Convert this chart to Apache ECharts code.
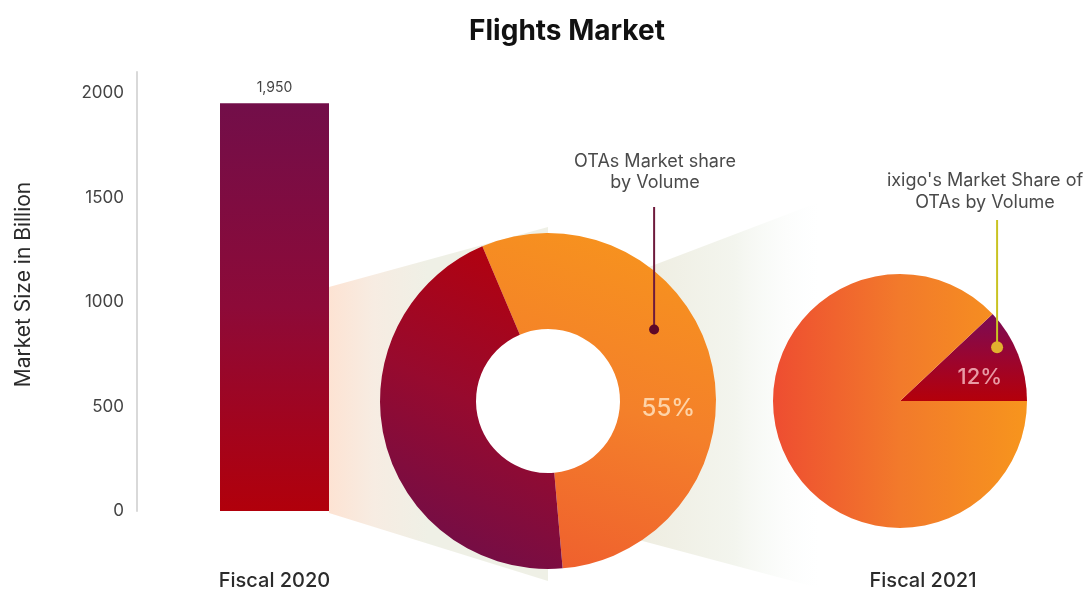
<!DOCTYPE html>
<html>
<head>
<meta charset="utf-8">
<title>Flights Market</title>
<script src="https://cdn.jsdelivr.net/npm/echarts@6/dist/echarts.min.js"></script>
<style>
  html, body { margin: 0; padding: 0; background: #ffffff; }
  #chart { width: 1085px; height: 591px; }
</style>
</head>
<body>
<div id="chart"></div>
<script>
// ---- data ----
const chartTitle = 'Flights Market';
const barCategories = ['Fiscal 2020'];
const marketSize = [1950];                       // Rs billion
const yAxisName = 'Market Size in Billion';

const otaNames = ['OTAs', 'Others'];
const otaShare = [55, 45];                        // % of flights market by volume
const otaNote = ['OTAs Market share', 'by Volume'];

const ixigoNames = ['ixigo', 'Other OTAs'];
const ixigoShare = [12, 88];                      // % of OTA volume
const ixigoNote = ["ixigo's Market Share of", 'OTAs by Volume'];
const pieYear = 'Fiscal 2021';

// ---- layout ----
const FONT = 'Inter, "Open Sans", sans-serif';
const W = 1085, H = 591;
const grid = { left: 137, width: 275, top: 72, bottom: 80 };
const barWidth = 109;
const donutCenter = [548, 401];
const donutRadius = [72, 168];
const pieCenter = [900, 401];
const pieRadius = 127;

function polar(c, r, deg) {
  const a = deg * Math.PI / 180;
  return [c[0] + r * Math.cos(a), c[1] - r * Math.sin(a)];
}

function lin(x, y, x2, y2, stops) {
  return { type: 'linear', x, y, x2, y2,
    colorStops: stops.map((c, i) => ({ offset: i / (stops.length - 1), color: c })) };
}

// band that widens from the bar into the donut, and from the donut to the pie
const barRight = grid.left + grid.width / 2 + barWidth / 2;
const barBottom = H - grid.bottom;
const bandA = [
  [barRight, 287], [donutCenter[0], donutCenter[1] - donutRadius[1] - 6],
  [donutCenter[0], donutCenter[1] + donutRadius[1] + 12], [barRight, barBottom + 2]
];
const bandB = [[620, 278], [830, 198], [830, 591], [620, 535]];

const otaDot = polar(donutCenter, 128, 34);
const ixigoDot = polar(pieCenter, 111, 29);

function note(lines, cx, y0, lineH) {
  return lines.map((t, i) => ({
    type: 'text',
    z: 20,
    style: {
      text: t, x: cx, y: y0 + i * lineH,
      align: 'center', verticalAlign: 'middle',
      font: '400 18px ' + FONT, fill: '#4a4a4a'
    }
  }));
}

const chart = echarts.init(document.getElementById('chart'), null, { renderer: 'canvas' });

chart.setOption({
  animation: false,
  backgroundColor: '#ffffff',
  textStyle: { fontFamily: FONT },
  title: {
    text: chartTitle,
    left: 562,
    textAlign: 'center',
    top: 13,
    textStyle: { fontFamily: FONT, fontSize: 28, fontWeight: 700, color: '#111111' }
  },
  grid: { left: grid.left, right: W - grid.left - grid.width, top: grid.top, bottom: grid.bottom, containLabel: false },
  xAxis: {
    type: 'category',
    data: barCategories,
    axisLine: { show: false },
    axisTick: { show: false },
    axisLabel: { margin: 60, fontSize: 20, fontWeight: 500, color: '#2b2b2b', fontFamily: FONT }
  },
  yAxis: {
    type: 'value',
    min: 0,
    max: 2100,
    interval: 500,
    name: yAxisName,
    nameLocation: 'middle',
    nameGap: 103,
    nameTextStyle: { fontSize: 21, color: '#2b2b2b', fontFamily: FONT, padding: [0, 0, 0, 14] },
    axisLine: { show: true, lineStyle: { color: '#d9d9d9', width: 2 } },
    axisTick: { show: false },
    splitLine: { show: false },
    axisLabel: {
      showMaxLabel: false, margin: 13, fontSize: 17, color: '#444444', fontFamily: FONT,
      formatter: v => String(v)
    }
  },
  series: [
    {
      type: 'bar',
      data: marketSize,
      barWidth: barWidth,
      z: 3,
      itemStyle: {
        color: lin(0, 0, 0, 1, ['#720e49', '#8d0a38', '#b1000b'])
      },
      label: {
        show: true,
        position: 'top',
        distance: 9,
        fontSize: 14,
        color: '#444444',
        fontFamily: FONT,
        formatter: p => p.value.toLocaleString('en-US')
      }
    },
    {
      type: 'pie',
      center: donutCenter,
      radius: donutRadius,
      startAngle: 90 + 23,
      clockwise: true,
      silent: true,
      z: 3,
      emphasis: { disabled: true },
      labelLine: { show: false },
      data: otaNames.map((n, i) => ({
        name: n,
        value: otaShare[i],
        itemStyle: {
          color: i === 0
            ? lin(0.75, 0, 0.25, 1, ['#f7941d', '#f4802a', '#ef5f2e'])
            : lin(0.9, 0, 0.05, 0.95, ['#b6000a', '#970a2e', '#6c0e4b'])
        },
        label: {
          show: i === 0,
          position: 'inside',
          formatter: p => p.value + '%',
          fontSize: 24,
          fontWeight: 500,
          color: 'rgba(255, 226, 190, 0.85)',
          fontFamily: FONT
        }
      })),
      labelLayout: p => (p.dataIndex === 0 ? { dx: 1, dy: 38 } : {})
    },
    {
      type: 'pie',
      center: pieCenter,
      radius: pieRadius,
      startAngle: ixigoShare[0] * 3.6,
      clockwise: true,
      silent: true,
      z: 3,
      emphasis: { disabled: true },
      labelLine: { show: false },
      data: ixigoNames.map((n, i) => ({
        name: n,
        value: ixigoShare[i],
        itemStyle: {
          color: i === 0
            ? lin(0, 0, 0, 1, ['#7a0b55', '#9a0530', '#b4000a'])
            : lin(0, 0, 1, 0, ['#ee4d31', '#f27a2b', '#f7951d'])
        },
        label: {
          show: i === 0,
          position: 'inside',
          formatter: p => p.value + '%',
          fontSize: 22,
          fontWeight: 500,
          color: 'rgba(255, 205, 210, 0.75)',
          fontFamily: FONT
        }
      })),
      labelLayout: p => (p.dataIndex === 0 ? { dx: 18, dy: 1 } : {})
    }
  ],
  graphic: [
    {
      type: 'polygon', z: -10, silent: true,
      shape: { points: bandA },
      style: {
        fill: { type: 'linear', global: true, x: barRight, y: 0, x2: donutCenter[0] - 120, y2: 0,
          colorStops: [{ offset: 0, color: '#fde3d3' }, { offset: 0.45, color: '#f7ece2' }, { offset: 1, color: '#eff0e6' }] }
      }
    },
    {
      type: 'polygon', z: -10, silent: true,
      shape: { points: bandB },
      style: {
        fill: { type: 'linear', global: true, x: 630, y: 0, x2: 820, y2: 0,
          colorStops: [{ offset: 0, color: '#eeecdf' }, { offset: 0.55, color: '#f3f5ee' }, { offset: 1, color: 'rgba(250,253,253,0)' }] }
      }
    },
    // keep the donut hole clear of the band behind it
    {
      type: 'circle', z: -5, silent: true,
      shape: { cx: donutCenter[0], cy: donutCenter[1], r: donutRadius[0] + 1 },
      style: { fill: '#ffffff' }
    },
    // OTA share callout
    ...note(otaNote, 655, 162, 21),
    {
      type: 'line', z: 20, silent: true,
      shape: { x1: otaDot[0], y1: 207, x2: otaDot[0], y2: otaDot[1] },
      style: { stroke: '#6e1a3c', lineWidth: 2 }
    },
    {
      type: 'circle', z: 21, silent: true,
      shape: { cx: otaDot[0], cy: otaDot[1], r: 5 },
      style: { fill: '#5e0828' }
    },
    // ixigo share callout
    ...note(ixigoNote, 985, 181, 22),
    {
      type: 'line', z: 20, silent: true,
      shape: { x1: ixigoDot[0], y1: 220, x2: ixigoDot[0], y2: ixigoDot[1] },
      style: { stroke: '#c9c322', lineWidth: 2 }
    },
    {
      type: 'circle', z: 21, silent: true,
      shape: { cx: ixigoDot[0], cy: ixigoDot[1], r: 6 },
      style: { fill: '#e2b12f' }
    },
    {
      type: 'text', z: 20,
      style: {
        text: pieYear, x: 923, y: 581, align: 'center', verticalAlign: 'middle',
        font: '500 20px ' + FONT, fill: '#2b2b2b'
      }
    }
  ]
});
</script>
</body>
</html>
